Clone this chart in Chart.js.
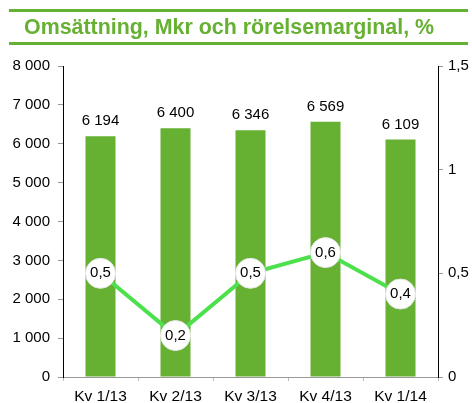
<!DOCTYPE html>
<html>
<head>
<meta charset="utf-8">
<script src="https://cdn.jsdelivr.net/npm/chart.js@4.4.1/dist/chart.umd.min.js"></script>
<style>
  html, body { margin: 0; padding: 0; background: #fff; }
  #wrap { position: relative; width: 472px; height: 403px; }
  #title { position: absolute; left: 9px; top: 9px; width: 459px; height: 36px;
    border-top: 3px solid #66b032; border-bottom: 3px solid #66b032; box-sizing: border-box;
    font-family: "Liberation Sans", Arial, sans-serif; font-weight: bold; font-size: 21.4px;
    color: #66b032; line-height: 30px; padding-left: 15px; white-space: nowrap; }
  canvas { position: absolute; left: 0; top: 0; }
</style>
</head>
<body>
<div id="wrap">
  <canvas id="c" width="472" height="403"></canvas>
  <div id="title">Omsättning, Mkr och rörelsemarginal, %</div>
</div>
<script>
const categories = ["Kv 1/13", "Kv 2/13", "Kv 3/13", "Kv 4/13", "Kv 1/14"];
const revenue = [6194, 6400, 6346, 6569, 6109];
const margin = [0.5, 0.2, 0.5, 0.6, 0.4];
const leftTicks = [0, 1000, 2000, 3000, 4000, 5000, 6000, 7000, 8000];
const rightTicks = [0, 0.5, 1, 1.5];

function fmtThousands(v) {
  return String(v).replace(/\B(?=(\d{3})+(?!\d))/g, " ");
}
function fmtDec(v) {
  return String(v).replace(".", ",");
}

const FONT = "Liberation Sans, Arial, sans-serif";

const labelPlugin = {
  id: "labels",
  afterDatasetsDraw(chart) {
    const ctx = chart.ctx;
    ctx.save();
    ctx.fillStyle = "#000";
    ctx.textAlign = "center";
    ctx.textBaseline = "middle";
    const barMeta = chart.getDatasetMeta(0);
    ctx.font = "15px " + FONT;
    barMeta.data.forEach((el, i) => {
      ctx.fillText(fmtThousands(revenue[i]), el.x, el.y - 15);
    });
    const lineMeta = chart.getDatasetMeta(1);
    ctx.font = "15px " + FONT;
    lineMeta.data.forEach((el, i) => {
      ctx.fillText(fmtDec(margin[i]), el.x, el.y);
    });
    ctx.restore();
  }
};

new Chart(document.getElementById("c"), {
  type: "bar",
  data: {
    labels: categories,
    datasets: [
      {
        type: "bar",
        data: revenue,
        backgroundColor: "#66b032",
        yAxisID: "y",
        barPercentage: 0.4,
        categoryPercentage: 1,
        order: 1
      },
      {
        type: "line",
        data: margin,
        yAxisID: "y1",
        borderColor: "#4ce04c",
        borderWidth: 4,
        pointRadius: 15,
        pointBackgroundColor: "#ffffff",
        pointBorderColor: "#e6e6e6",
        pointBorderWidth: 1,
        tension: 0,
        order: 0
      }
    ]
  },
  options: {
    responsive: false,
    animation: false,
    layout: { padding: { top: 66, left: 0, right: 0, bottom: 0 } },
    plugins: { legend: { display: false }, tooltip: { enabled: false }, title: { display: false } },
    scales: {
      x: {
        offset: true,
        grid: { display: true, drawOnChartArea: false, drawTicks: true, tickLength: 4, color: "#bbb", offset: true },
        border: { color: "#999", width: 1 },
        ticks: { color: "#000", font: { family: FONT, size: 15.5 }, padding: 6 },
        afterFit(s) { s.height = 26; }
      },
      y: {
        position: "left",
        min: 0, max: 8000,
        afterBuildTicks(s) { s.ticks = leftTicks.map(v => ({ value: v })); },
        grid: { drawOnChartArea: false, tickLength: 5, color: "#999" },
        border: { color: "#000", width: 1 },
        ticks: { color: "#000", font: { family: FONT, size: 15 }, padding: 8,
          callback: v => fmtThousands(v) },
        afterFit(s) { s.width = 63; }
      },
      y1: {
        position: "right",
        min: 0, max: 1.5,
        afterBuildTicks(s) { s.ticks = rightTicks.map(v => ({ value: v })); },
        grid: { drawOnChartArea: false, tickLength: 5, color: "#999" },
        border: { color: "#000", width: 1 },
        ticks: { color: "#000", font: { family: FONT, size: 15 }, padding: 5,
          callback: v => fmtDec(v) },
        afterFit(s) { s.width = 34; }
      }
    }
  },
  plugins: [labelPlugin]
});
</script>
</body>
</html>
